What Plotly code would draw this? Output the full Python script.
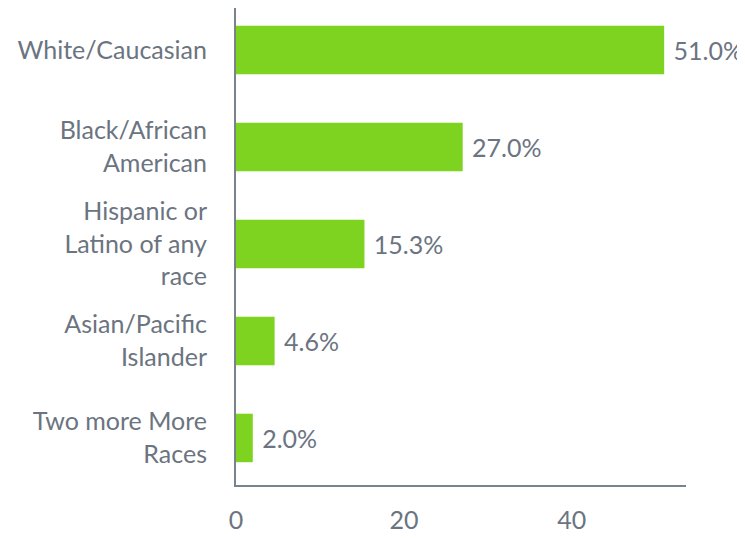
import plotly.graph_objects as go

categories = ["White/Caucasian", "Black/African<br>American", "Hispanic or<br>Latino of any<br>race",
              "Asian/Pacific<br>Islander", "Two more More<br>Races"]
values = [51.0, 27.0, 15.3, 4.6, 2.0]
labels = ["51.0%", "27.0%", "15.3%", "4.6%", "2.0%"]

TXT = "#6b7480"
FS = 25
fig = go.Figure(go.Bar(
    y=categories, x=values, orientation="h",
    marker=dict(color="#7ed321", line=dict(width=0)),
    width=0.5,
    text=[" " + l for l in labels], textposition="outside",
    textfont=dict(family="Lato", size=FS, color=TXT),
    cliponaxis=False,
))
fig.update_layout(
    width=745, height=538,
    margin=dict(l=228, r=67, t=0, b=61),
    plot_bgcolor="white", paper_bgcolor="white",
    font=dict(family="Lato", size=FS, color=TXT),
    showlegend=False,
)
fig.update_yaxes(range=[4.485, -0.433], showline=True, linecolor="#7a828c", linewidth=2,
                 ticks="", ticklabelstandoff=22, showgrid=False,
                 tickfont=dict(family="Lato", size=FS, color=TXT))
fig.update_xaxes(range=[0, 53.6], showline=True, linecolor="#7a828c", linewidth=2,
                 tickvals=[0, 20, 40], ticks="", ticklabelstandoff=12, showgrid=False, zeroline=False,
                 tickfont=dict(family="Lato", size=FS, color=TXT))
fig.write_html("out.html")
